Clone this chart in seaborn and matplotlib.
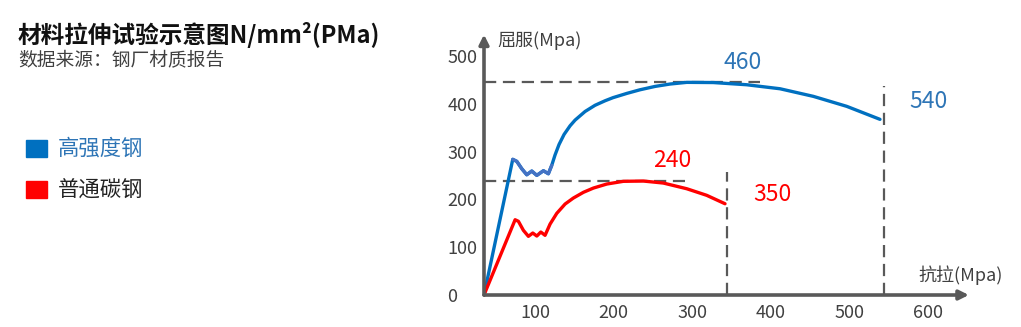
import numpy as np
import pandas as pd
import seaborn as sns
import matplotlib
matplotlib.use("Agg")
import matplotlib.pyplot as plt
from matplotlib.patches import Rectangle

# ---------------- data ----------------
title = "材料拉伸试验示意图N/mm²(PMa)"
subtitle = "数据来源：钢厂材质报告"
series_names = ["高强度钢", "普通碳钢"]

blue_x = [35, 71.6, 76.7, 83.1, 89.4, 95.8, 102.2, 110.6, 116.9, 121.2, 125.4, 130.5,
          136.9, 144.5, 150.9, 163.6, 176.3, 189.1, 199.2, 217, 233.6, 252.7, 271.8,
          293, 326.8, 369.3, 411.7, 454.1, 496.6, 538.9]
blue_y = [0, 283.9, 279.7, 264.2, 251.7, 259.4, 250.4, 260.0, 253.8, 271.3, 293, 315,
          336, 354, 366, 384, 397, 406.5, 413, 422, 429.5, 436.5, 441.5,
          445, 444.6, 440, 431.6, 415.7, 394.8, 367.6]

red_x = [35, 74.6, 78.8, 85.1, 91.5, 97.1, 102.2, 107.3, 112.7, 119.1, 127.6, 138.2,
         148.7, 161.5, 174.2, 191.2, 212.3, 237.8, 263.2, 293, 318.4, 341.7]
red_y = [0, 157.5, 154.2, 135.4, 122.8, 129.7, 123.4, 131.8, 124.9, 148.5, 170.9, 190.4,
         202.9, 214.9, 223.8, 232.2, 237.9, 238.5, 234.3, 222.4, 208.6, 191]

# reference dashed lines: (y, x_end) horizontals and (x, y_top) verticals
h_lines = [(446, 386), (238, 291)]
v_lines = [(344.7, 257), (543.6, 437)]

# value labels: text, x, y
value_labels = ["460", "540", "240", "350"]
value_x = [364.6, 601, 274, 401.5]
value_y = [487, 404, 282, 211]

x_ticks = [100, 200, 300, 400, 500, 600]
y_ticks = [0, 100, 200, 300, 400, 500]
x_label = "抗拉(Mpa)"
y_label = "屈服(Mpa)"

# ---------------- style ----------------
sns.set_theme(style="white")
plt.rcParams["font.family"] = ["Noto Sans CJK SC", "DejaVu Sans"]

BLUE = "#0070C0"
BLUE_W = "#4472C4"
BLUE_T = "#2E75B6"
RED = "#FF0000"
GRAY = "#595959"
TXT = "#404040"

W, H = 1021, 327
fig = plt.figure(figsize=(W / 100, H / 100), dpi=100)
ax = fig.add_axes([484 / W, 1 - 297.4 / H, 499 / W, 270 / H])
ax.set_xlim(35, 670)
ax.set_ylim(-5, 560)
for s in ax.spines.values():
    s.set_visible(False)
ax.set_facecolor("white")

# dashed reference lines
for yv, xe in h_lines:
    ax.plot([35, xe], [yv, yv], color=GRAY, lw=1.6, linestyle=(0, (5.5, 3)), zorder=1)
for xv, yt in v_lines:
    ax.plot([xv, xv], [0, yt], color=GRAY, lw=1.6, linestyle=(0, (5.5, 3)), zorder=1)

# curves
blue_df = pd.DataFrame({"x": blue_x, "y": blue_y})
red_df = pd.DataFrame({"x": red_x, "y": red_y})
sns.lineplot(data=blue_df, x="x", y="y", sort=False, color=BLUE, lw=2.4, ax=ax, zorder=3)
sns.lineplot(data=blue_df.iloc[1:10], x="x", y="y", sort=False, color=BLUE_W, lw=2.4,
             ax=ax, zorder=4)
sns.lineplot(data=red_df, x="x", y="y", sort=False, color=RED, lw=2.4, ax=ax, zorder=3)

# axes with arrows
ax.annotate("", xy=(652, 0), xytext=(35, 0), annotation_clip=False,
            arrowprops=dict(arrowstyle="-|>", color=GRAY, lw=2.6, mutation_scale=14,
                            shrinkA=0, shrinkB=0), zorder=5)
ax.annotate("", xy=(35, 545), xytext=(35, 0), annotation_clip=False,
            arrowprops=dict(arrowstyle="-|>", color=GRAY, lw=2.6, mutation_scale=14,
                            shrinkA=0, shrinkB=0), zorder=5)

# ticks
ax.set_xticks(x_ticks)
ax.set_xticklabels([str(v) for v in x_ticks])
ax.set_yticks(y_ticks)
ax.set_yticklabels([str(v) for v in y_ticks])
ax.tick_params(axis="x", length=0, pad=5, labelsize=13, colors=TXT)
ax.tick_params(axis="y", length=0, pad=26.5, labelsize=13, colors=TXT)
for lab in ax.get_yticklabels():
    lab.set_horizontalalignment("left")
ax.set_xlabel("")
ax.set_ylabel("")

# axis titles
ax.text(51.6, 533, y_label, fontsize=13, color=TXT, ha="left", va="center", clip_on=False)
ax.text(695, 42, x_label, fontsize=13, color=TXT, ha="right", va="center", clip_on=False)

# value labels
val_colors = [BLUE_T, BLUE_T, RED, RED]
for t, xv, yv, c in zip(value_labels, value_x, value_y, val_colors):
    ax.text(xv, yv, t, fontsize=16.5, color=c, ha="center", va="center", clip_on=False)

# title / subtitle
fig.text(18 / W, 1 - 35 / H, title, fontsize=17, fontweight="bold", color="#111111",
         ha="left", va="center")
fig.text(18 / W, 1 - 60.5 / H, subtitle, fontsize=13.5, color=TXT, ha="left", va="center")

# legend
leg_colors = [BLUE, RED]
leg_text_colors = [BLUE_T, "#222222"]
leg_y = [148.5, 189.5]
for name, c, tc, yc in zip(series_names, leg_colors, leg_text_colors, leg_y):
    fig.add_artist(Rectangle((26 / W, 1 - (yc + 8.7) / H), 20.5 / W, 17.5 / H,
                             transform=fig.transFigure, color=c))
    fig.text(58 / W, 1 - yc / H, name, fontsize=15.4, color=tc, ha="left", va="center")

fig.savefig("out.png", dpi=100, facecolor="white")
